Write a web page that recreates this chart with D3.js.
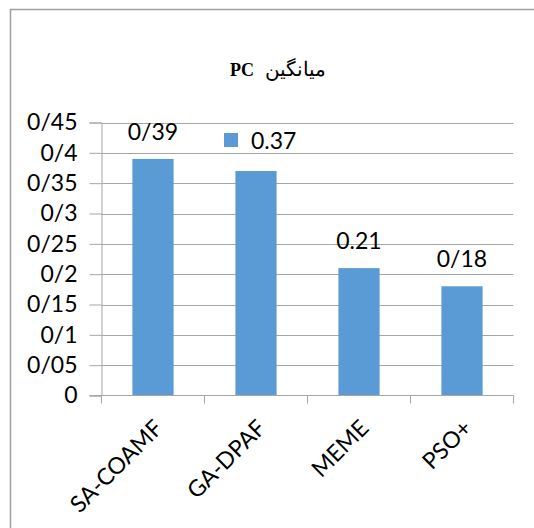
<!DOCTYPE html>
<html>
<head>
<meta charset="utf-8">
<script src="https://cdn.jsdelivr.net/npm/d3@7"></script>
<style>
  html, body { margin: 0; padding: 0; background: #fff; }
  svg { display: block; }
</style>
</head>
<body>
<svg id="chart" width="534" height="528"></svg>
<script>
// Average PC per method
const categories = ["SA-COAMF", "GA-DPAF", "MEME", "PSO+"];
const values = [0.39, 0.37, 0.21, 0.18];
const valueLabels = ["0/39", "0.37", "0.21", "0/18"];
const tickValues = [0, 0.05, 0.1, 0.15, 0.2, 0.25, 0.3, 0.35, 0.4, 0.45];
const tickLabels = ["0", "0/05", "0/1", "0/15", "0/2", "0/25", "0/3", "0/35", "0/4", "0/45"];
const titleWord = "میانگین";
const titleMetric = "PC";

const svg = d3.select("#chart");
const font = "Lato, 'Open Sans', sans-serif";
const fontSize = 23;
const barColor = "#5B9BD5";
const lineColor = "#a6a6a6";

// outer frame
svg.append("rect")
  .attr("x", 10.5).attr("y", 9.5)
  .attr("width", 700).attr("height", 700)
  .attr("fill", "none").attr("stroke", "#a0a0a0").attr("stroke-width", 1.5);

const plot = { left: 101.5, right: 513.5, top: 122.5, bottom: 395.5 };

const x = d3.scaleBand().domain(categories)
  .range([plot.left, plot.right]).paddingInner(0.6).paddingOuter(0.3);
const xEdges = d3.scaleBand().domain(categories).range([plot.left, plot.right]);
const y = d3.scaleLinear().domain([0, 0.45]).range([plot.bottom, plot.top]);

// gridlines
svg.append("g").selectAll("line").data(tickValues.slice(1)).join("line")
  .attr("x1", plot.left).attr("x2", plot.right)
  .attr("y1", d => Math.round(y(d)) + 0.5).attr("y2", d => Math.round(y(d)) + 0.5)
  .attr("stroke", lineColor).attr("stroke-width", 1);

// y axis
const yAxis = svg.append("g")
  .attr("transform", `translate(${plot.left},0)`)
  .call(d3.axisLeft(y).tickValues(tickValues).tickSize(12).tickPadding(12)
    .tickFormat((d, i) => tickLabels[i]));
yAxis.select(".domain").attr("stroke", lineColor);
yAxis.selectAll(".tick line").attr("stroke", lineColor);
yAxis.selectAll(".tick text")
  .attr("font-family", font).attr("font-size", fontSize).attr("fill", "#000");

// bars
svg.append("g").selectAll("rect").data(values).join("rect")
  .attr("x", (d, i) => x(categories[i]))
  .attr("width", x.bandwidth())
  .attr("y", d => y(d))
  .attr("height", d => plot.bottom - y(d))
  .attr("fill", barColor);

// x axis
const xAxisG = svg.append("g").attr("transform", `translate(0,${plot.bottom})`);
xAxisG.append("line")
  .attr("x1", plot.left - 12).attr("x2", plot.right)
  .attr("stroke", lineColor);
xAxisG.selectAll("line.tick")
  .data(categories.map(c => xEdges(c)).concat([plot.right]))
  .join("line").attr("class", "tick")
  .attr("x1", d => d).attr("x2", d => d)
  .attr("y1", 0).attr("y2", 8)
  .attr("stroke", lineColor);
xAxisG.selectAll("text").data(categories).join("text")
  .attr("transform", d => `translate(${x(d) + x.bandwidth() / 2 + 7},${30}) rotate(-45)`)
  .attr("text-anchor", "end")
  .attr("dominant-baseline", "middle")
  .attr("font-family", font).attr("font-size", fontSize).attr("fill", "#000")
  .text(d => d);

// value labels
const labels = svg.append("g");
values.forEach((v, i) => {
  const cx = x(categories[i]) + x.bandwidth() / 2;
  if (i === 1) {
    // label set aside with a colour key
    labels.append("rect")
      .attr("x", 224).attr("y", 133).attr("width", 14).attr("height", 14)
      .attr("fill", barColor);
    labels.append("text")
      .attr("x", 251).attr("y", 149)
      .attr("font-family", font).attr("font-size", fontSize).attr("fill", "#000")
      .text(valueLabels[i]);
  } else {
    labels.append("text")
      .attr("x", cx).attr("y", y(v) - 19)
      .attr("text-anchor", "middle")
      .attr("font-family", font).attr("font-size", fontSize).attr("fill", "#000")
      .text(valueLabels[i]);
  }
});

// title
svg.append("text")
  .attr("x", 254).attr("y", 76)
  .attr("text-anchor", "end")
  .attr("font-family", "'Liberation Serif', serif")
  .attr("font-weight", "bold").attr("font-size", 18)
  .text(titleMetric);
svg.append("text")
  .attr("x", 326).attr("y", 76)
  .attr("text-anchor", "start")
  .attr("direction", "rtl")
  .attr("font-family", "'Liberation Serif', 'DejaVu Serif', serif")
  .attr("font-size", 20)
  .text(titleWord);
</script>
</body>
</html>
